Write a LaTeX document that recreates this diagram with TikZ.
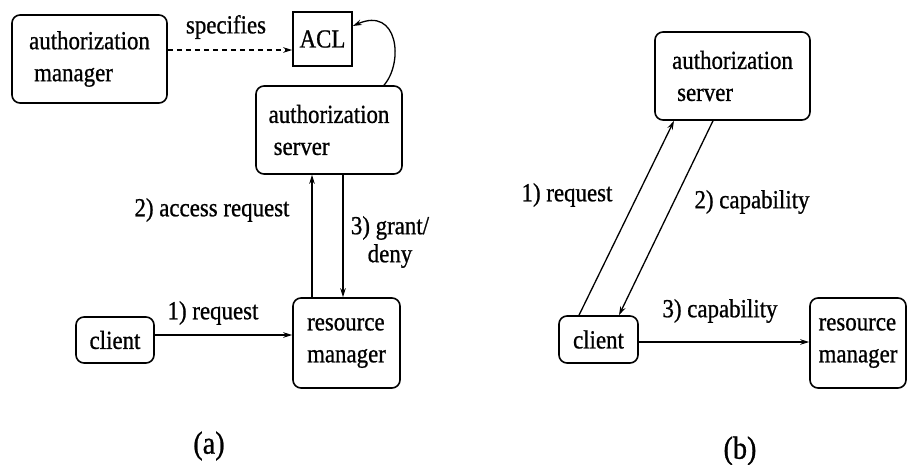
\documentclass[tikz,border=0pt]{standalone}
\usepackage{fontspec}
\setmainfont{Liberation Serif}[FakeStretch=0.88, FakeBold=0.8]
\usetikzlibrary{arrows.meta}
\begin{document}
\begin{tikzpicture}[x=1pt,y=-1pt,
  every node/.style={font=\fontsize{26}{32}\selectfont},
  box/.style={draw, rounded corners=8pt, line width=1.6pt, align=left, inner sep=0pt},
  sqbox/.style={draw, line width=1.6pt, inner sep=0pt},
  lbl/.style={inner sep=0pt, align=center},
  figcaption/.style={inner sep=0pt, font=\fontsize{32}{38}\selectfont},
  arr/.style={line width=1.3pt, -{Stealth[length=9pt,width=5.5pt]}},
  darr/.style={line width=1.3pt, dashed, dash pattern=on 5pt off 4pt, -{Stealth[length=9pt,width=5.5pt]}}
]
\useasboundingbox (0,0) rectangle (911,464);

% ---- (a) ----
\node[box, minimum width=155pt, minimum height=88pt] (am) at (89.5,59) {authorization\\\hspace{5pt}manager};
\node[sqbox, minimum width=59pt, minimum height=54pt] (acl) at (322.5,39) {ACL};
\node[box, minimum width=146pt, minimum height=88pt] (asA) at (329,130) {authorization\\\hspace{5pt}server};
\node[box, minimum width=107pt, minimum height=90pt] (rmA) at (346.5,343) {resource\\manager};
\node[box, minimum width=78pt, minimum height=46pt] (clA) at (115,340) {client};

\coordinate (dy) at (0,50);
\coordinate (ux) at (312,0);
\coordinate (dx) at (343,0);
\coordinate (ry) at (0,335);
\coordinate (lx) at (384,0);
\coordinate (ly) at (0,26);

\draw[darr] (am.east |- dy) -- (acl.west |- dy);
\draw[arr] (lx |- asA.north) .. controls (404,62) and (398,6) .. (acl.east |- ly);
\draw[arr] (ux |- rmA.north) -- (ux |- asA.south);
\draw[arr] (dx |- asA.south) -- (dx |- rmA.north);
\draw[arr] (clA.east |- ry) -- (rmA.west |- ry);

\node[lbl] (lspec) at (226,27) {specifies};
\node[lbl] (lacc) at (212,210) {2) access request};
\node[lbl, font=\fontsize{26}{28}\selectfont] (lgr) at (390,242) {3) grant/\\deny};
\node[lbl] (lreqA) at (213,313) {1) request};
\node[figcaption] (capa) at (209,446) {(a)};

% ---- (b) ----
\node[box, minimum width=155pt, minimum height=88pt] (asB) at (732.5,76) {authorization\\\hspace{5pt}server};
\node[box, minimum width=79pt, minimum height=47pt] (clB) at (598.5,339.5) {client};
\node[box, minimum width=96pt, minimum height=90pt] (rmB) at (858,343) {resource\\manager};

\coordinate (b1) at (579,0);
\coordinate (b2) at (674,0);
\coordinate (b3) at (713,0);
\coordinate (b4) at (619,0);
\coordinate (by) at (0,342);

\draw[arr] (b1 |- clB.north) -- (b2 |- asB.south);
\draw[arr] (b3 |- asB.south) -- (b4 |- clB.north);
\draw[arr] (clB.east |- by) -- (rmB.west |- by);

\node[lbl] (lreqB) at (567,195) {1) request};
\node[lbl] (lcap2) at (752,202) {2) capability};
\node[lbl] (lcap3) at (720,311) {3) capability};
\node[figcaption] (capb) at (740,451) {(b)};
\end{tikzpicture}
\end{document}
